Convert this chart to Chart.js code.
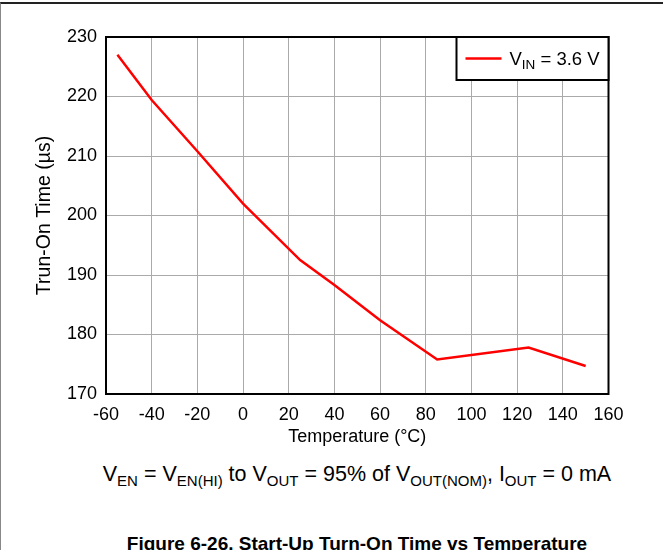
<!DOCTYPE html>
<html lang="en">
<head>
<meta charset="UTF-8">
<title>Start-Up Turn-On Time vs Temperature</title>
<script src="https://cdn.jsdelivr.net/npm/chart.js"></script>
<style>
    html, body { margin: 0; padding: 0; background: #fff; }
    body { width: 663px; height: 550px; overflow: hidden; position: relative;
           font-family: "Liberation Sans", Arial, sans-serif; }
    #frame { position: absolute; left: 0; top: 2px; width: 662px; height: 548px;
             border-top: 2px solid #222; border-left: 1px solid #888; }
    #wrap { position: absolute; left: 0; top: 0; width: 663px; height: 450px; }
    .caption { position: absolute; left: 0; width: 714px; text-align: center; color: #000; white-space: nowrap; }
    #cond { top: 462px; font-size: 21.5px; }
    #cond sub { font-size: 15px; vertical-align: -5px; line-height: 0; }
    #fig { top: 533px; font-size: 19px; font-weight: bold; }
</style>
</head>
<body>
<div id="frame"></div>
<div id="wrap"><canvas id="chart"></canvas></div>
<div class="caption" id="cond">V<sub>EN</sub> = V<sub>EN(HI)</sub> to V<sub>OUT</sub> = 95% of V<sub>OUT(NOM)</sub>, I<sub>OUT</sub> = 0 mA</div>
<div class="caption" id="fig">Figure 6-26. Start-Up Turn-On Time vs Temperature</div>
<script>
// data
const temperatures = [-55, -40, -20, 0, 25, 40, 60, 85, 125, 150];
const turnOnTimes = [227, 219.4, 210.8, 202, 192.5, 188.3, 182.4, 175.8, 177.8, 174.7];
const seriesName = ["V", "IN", " = 3.6 V"];

const FONT = "'Liberation Sans', Arial, sans-serif";

// black frame round the plot area + legend box with subscript
const framePlugin = {
    id: "frame",
    afterDatasetsDraw(chart) {
        const { ctx, chartArea: a } = chart;
        ctx.save();
        ctx.strokeStyle = "#000";
        ctx.lineWidth = 2;
        ctx.strokeRect(a.left, a.top, a.right - a.left, a.bottom - a.top);

        // legend
        const bx = a.right - 152, by = a.top, bw = 152, bh = 43;
        ctx.fillStyle = "#fff";
        ctx.fillRect(bx, by, bw, bh);
        ctx.strokeRect(bx, by, bw, bh);
        ctx.strokeStyle = "#ff0000";
        ctx.lineWidth = 2.5;
        ctx.beginPath();
        ctx.moveTo(bx + 9, by + 21.5);
        ctx.lineTo(bx + 45, by + 21.5);
        ctx.stroke();

        ctx.fillStyle = "#000";
        ctx.textBaseline = "alphabetic";
        let x = bx + 53;
        const base = by + 28;
        ctx.font = "18.5px " + FONT;
        ctx.fillText(seriesName[0], x, base);
        x += ctx.measureText(seriesName[0]).width;
        ctx.font = "13.5px " + FONT;
        ctx.fillText(seriesName[1], x, base + 4);
        x += ctx.measureText(seriesName[1]).width;
        ctx.font = "18.5px " + FONT;
        ctx.fillText(seriesName[2], x, base);
        ctx.restore();
    }
};

new Chart(document.getElementById("chart"), {
    type: "line",
    data: {
        datasets: [{
            label: "VIN = 3.6 V",
            data: temperatures.map((t, i) => ({ x: t, y: turnOnTimes[i] })),
            borderColor: "#ff0000",
            borderWidth: 2.5,
            pointRadius: 0,
            tension: 0,
            fill: false
        }]
    },
    options: {
        responsive: true,
        maintainAspectRatio: false,
        animation: false,
        layout: { padding: { left: 0, top: 37, right: 54.5, bottom: 0 } },
        plugins: { legend: { display: false }, tooltip: { enabled: false } },
        scales: {
            x: {
                type: "linear",
                min: -60, max: 160,
                afterFit(scale) { scale.height = 56; },
                ticks: { stepSize: 20, padding: 10, color: "#000", font: { family: FONT, size: 18 } },
                grid: { color: "#aaa", lineWidth: 1, drawTicks: false },
                border: { display: false },
                title: { display: true, text: "Temperature (°C)", color: "#000",
                         font: { family: FONT, size: 18 }, padding: { top: 0, bottom: 2 } }
            },
            y: {
                min: 170, max: 230,
                afterFit(scale) { scale.width = 106; },
                ticks: { stepSize: 10, padding: 9, color: "#000", font: { family: FONT, size: 18 } },
                grid: { color: "#aaa", lineWidth: 1, drawTicks: false },
                border: { display: false },
                title: { display: true, text: "Trun-On Time (µs)", color: "#000",
                         font: { family: FONT, size: 19.5 }, padding: { top: 33, bottom: 0 } }
            }
        }
    },
    plugins: [framePlugin]
});
</script>
</body>
</html>
